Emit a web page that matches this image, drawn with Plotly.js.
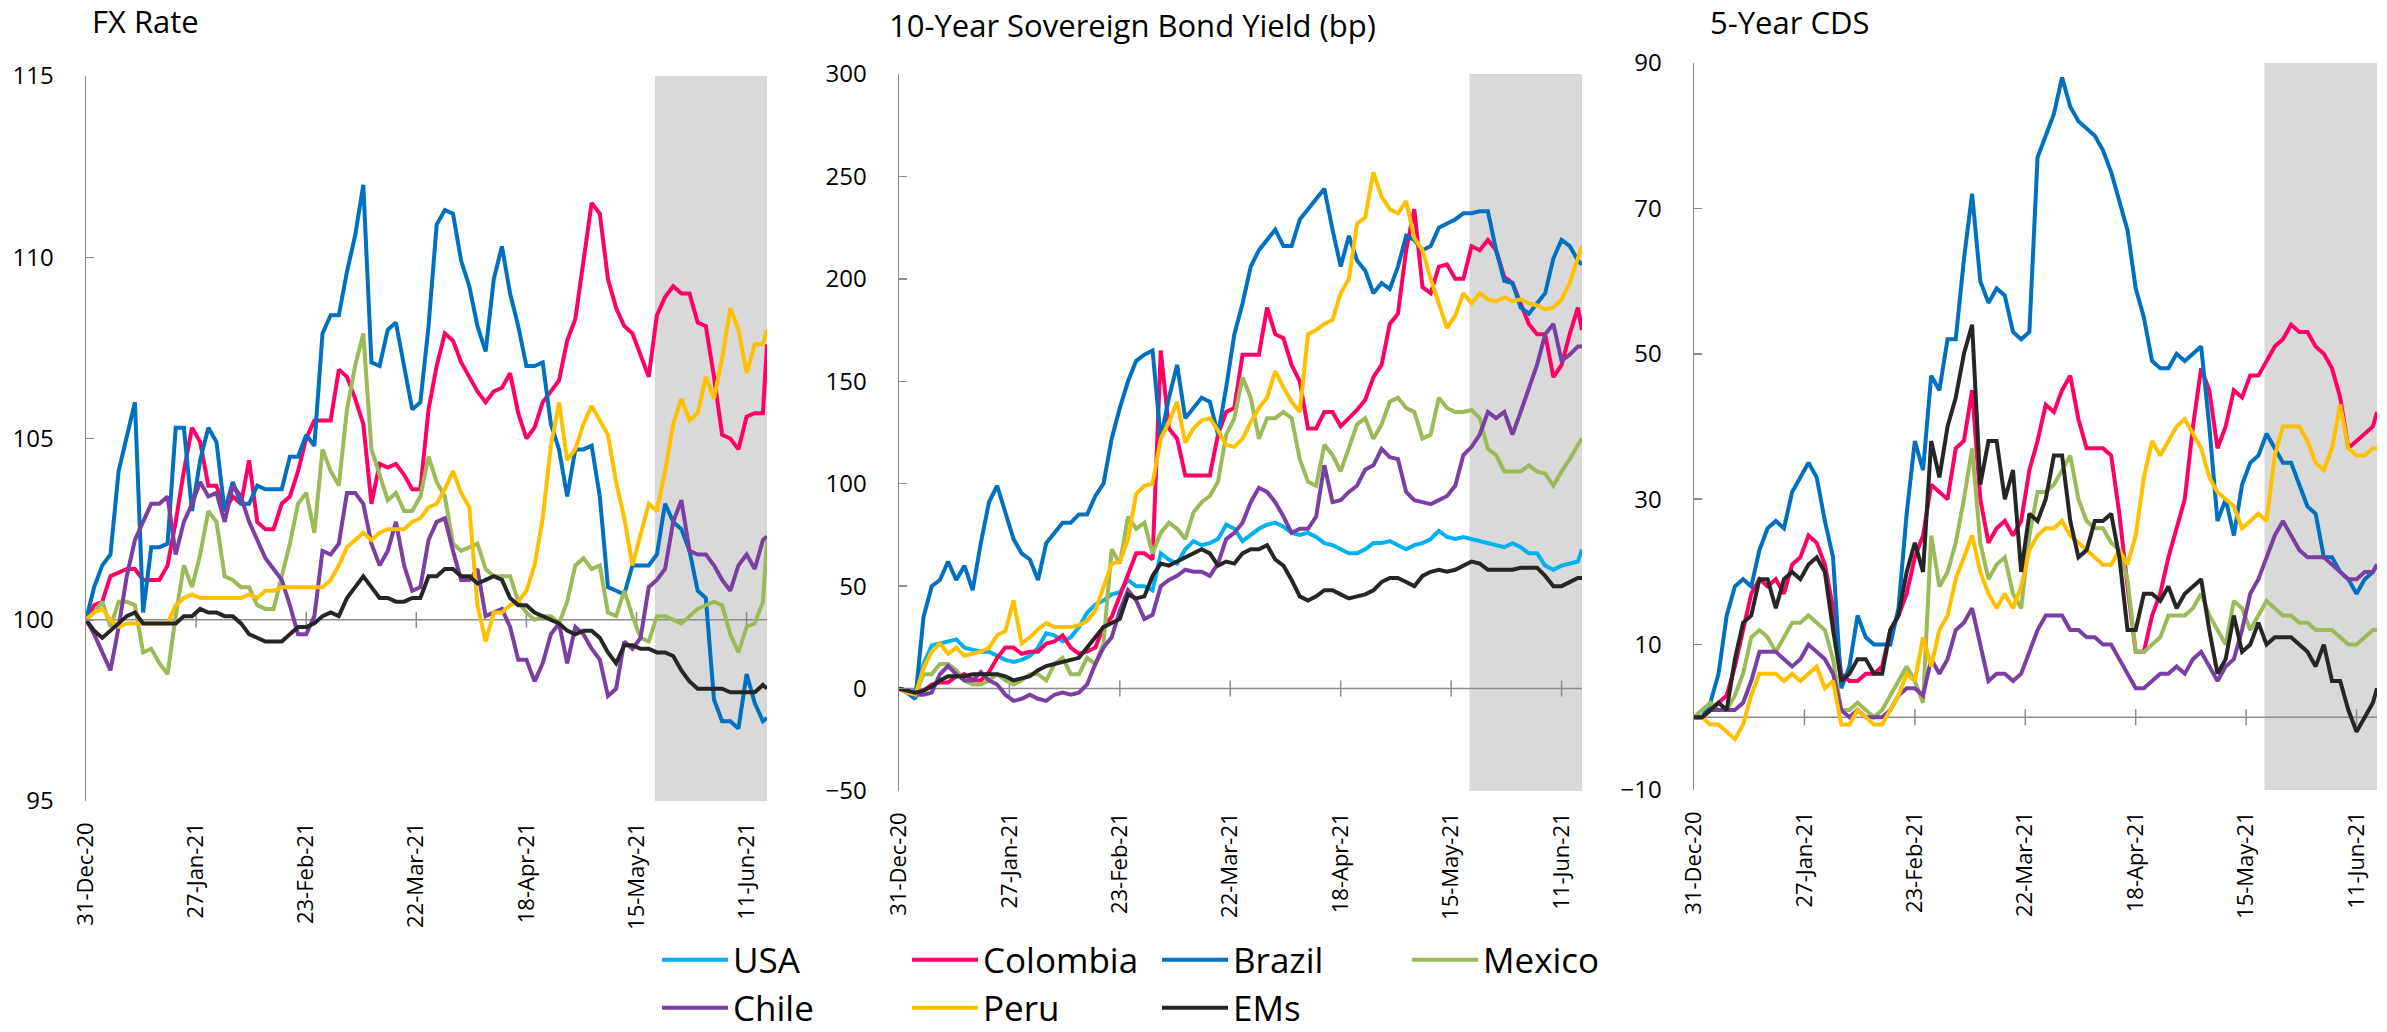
<!DOCTYPE html>
<html>
<head>
<meta charset="utf-8">
<script src="https://cdn.plot.ly/plotly-3.0.1.min.js"></script>
<style>html,body{margin:0;padding:0;background:#fff;}#chart{width:2387px;height:1032px;}</style>
</head>
<body>
<div id="chart"></div>
<script>
// ---------- DATA ----------
const dates = [
"2020-12-31","2021-01-02","2021-01-04","2021-01-06","2021-01-08","2021-01-10","2021-01-12","2021-01-14","2021-01-16","2021-01-18",
"2021-01-20","2021-01-22","2021-01-24","2021-01-26","2021-01-28","2021-01-30","2021-02-01","2021-02-03","2021-02-05","2021-02-07",
"2021-02-09","2021-02-11","2021-02-13","2021-02-15","2021-02-17","2021-02-19","2021-02-21","2021-02-23","2021-02-25","2021-02-27",
"2021-03-01","2021-03-03","2021-03-05","2021-03-07","2021-03-09","2021-03-11","2021-03-13","2021-03-15","2021-03-17","2021-03-19",
"2021-03-21","2021-03-23","2021-03-25","2021-03-27","2021-03-29","2021-03-31","2021-04-02","2021-04-04","2021-04-06","2021-04-08",
"2021-04-10","2021-04-12","2021-04-14","2021-04-16","2021-04-18","2021-04-20","2021-04-22","2021-04-24","2021-04-26","2021-04-28",
"2021-04-30","2021-05-02","2021-05-04","2021-05-06","2021-05-08","2021-05-10","2021-05-12","2021-05-14","2021-05-16","2021-05-18",
"2021-05-20","2021-05-22","2021-05-24","2021-05-26","2021-05-28","2021-05-30","2021-06-01","2021-06-03","2021-06-05","2021-06-07",
"2021-06-09","2021-06-11","2021-06-13","2021-06-15","2021-06-16"];

const tickDates = ["2020-12-31","2021-01-27","2021-02-23","2021-03-22","2021-04-18","2021-05-15","2021-06-11"];
const rangeStart = "2020-12-31";
const rangeEnd = "2021-06-16";
const shadeStart = "2021-05-19 12:00";

const panelTitles = ["FX Rate", "10-Year Sovereign Bond Yield (bp)", "5-Year CDS"];
const seriesNames = ["USA","Colombia","Brazil","Mexico","Chile","Peru","EMs"];

// FX Rate (index, 31-Dec-20 = 100)
const fxColombia = [100,100.4,100.5,101.2,101.3,101.4,101.4,101.1,101.1,101.1,
 101.5,102.7,104.1,105.3,104.9,103.7,103.7,103.0,103.4,103.2,
 104.4,102.7,102.5,102.5,103.2,103.4,104.1,105.0,105.5,105.5,
 105.5,106.9,106.7,106.1,105.4,103.2,104.3,104.2,104.3,104.0,
 103.6,103.6,105.8,107.0,107.9,107.7,107.1,106.7,106.3,106.0,
 106.3,106.4,106.8,105.7,105.0,105.3,106.0,106.3,106.6,107.7,
 108.3,109.9,111.5,111.2,109.4,108.6,108.1,107.9,107.3,106.7,
 108.4,108.9,109.2,109.0,109.0,108.2,108.1,106.7,105.1,105.0,
 104.7,105.6,105.7,105.7,107.6];
const fxBrazil = [100,100.9,101.5,101.8,104.1,105.0,106.0,100.2,102.0,102.0,
 102.1,105.3,105.3,103.0,104.4,105.3,104.9,103.0,103.8,103.2,
 103.2,103.7,103.6,103.6,103.6,104.5,104.5,105.1,104.8,107.9,
 108.4,108.4,109.6,110.6,112.0,107.1,107.0,108.0,108.2,107.0,
 105.8,106.0,108.1,110.9,111.3,111.2,109.9,109.2,108.1,107.4,
 109.4,110.3,109.0,108.1,107.0,107.0,107.1,105.4,104.7,103.4,
 104.7,104.7,104.8,103.4,100.9,100.8,100.7,101.5,101.5,101.5,
 101.8,103.2,102.7,102.5,101.9,100.8,100.6,97.8,97.2,97.2,
 97.0,98.5,97.7,97.2,97.3];
const fxMexico = [100,100.2,100.5,99.8,100.5,100.5,100.4,99.1,99.2,98.8,
 98.5,100.1,101.5,100.9,101.8,103.0,102.7,101.2,101.1,100.9,
 100.9,100.4,100.3,100.3,101.2,102.1,103.2,103.5,102.4,104.7,
 104.1,103.7,105.8,107.0,107.9,104.7,104.0,103.3,103.5,103.0,
 103.0,103.4,104.5,103.8,103.4,102.1,101.9,102.0,102.1,101.4,
 101.2,101.2,101.2,100.5,100.2,100.0,100.1,100.1,99.9,100.5,
 101.5,101.7,101.4,101.5,100.2,100.1,100.8,100.1,99.5,99.4,
 100.1,100.1,100.0,99.9,100.1,100.3,100.4,100.5,100.4,99.6,
 99.1,99.8,99.9,100.5,102.2];
const fxChile = [100,99.6,99.1,98.6,99.8,101.2,102.2,102.7,103.2,103.2,
 103.4,101.8,102.7,103.2,103.8,103.4,103.5,102.7,103.7,103.4,
 102.7,102.2,101.7,101.4,101.1,100.4,99.6,99.6,100.1,101.9,
 101.8,102.1,103.5,103.5,103.2,102.1,101.5,101.9,102.7,101.5,
 100.8,100.9,102.2,102.7,102.8,101.9,101.1,101.1,101.4,100.1,
 100.2,100.3,99.8,98.9,98.9,98.3,98.8,99.6,99.9,98.8,
 99.8,99.6,99.2,98.9,97.9,98.1,99.4,99.2,99.5,100.9,
 101.1,101.4,102.7,103.3,101.9,101.8,101.8,101.5,101.1,100.8,
 101.5,101.8,101.4,102.2,102.3];
const fxPeru = [100,100.2,100.3,100.0,99.8,99.9,99.9,99.9,99.9,99.9,
 99.9,100.4,100.6,100.7,100.6,100.6,100.6,100.6,100.6,100.6,
 100.7,100.6,100.8,100.8,100.9,100.9,100.9,100.9,100.9,100.9,
 101.1,101.5,102.0,102.2,102.4,102.2,102.4,102.5,102.5,102.5,
 102.7,102.8,103.1,103.2,103.6,104.1,103.5,103.1,100.4,99.4,
 100.2,100.2,100.4,100.5,100.8,101.5,102.8,104.8,106.0,104.4,
 104.7,105.4,105.9,105.5,105.1,103.8,102.8,101.5,102.4,103.2,
 103.0,104.1,105.4,106.1,105.5,105.7,106.7,106.1,107.2,108.6,
 108.0,106.8,107.6,107.6,108.0];
const fxEMs = [100,99.7,99.5,99.7,99.9,100.1,100.2,99.9,99.9,99.9,
 99.9,99.9,100.1,100.1,100.3,100.2,100.2,100.1,100.1,99.9,
 99.6,99.5,99.4,99.4,99.4,99.6,99.8,99.8,99.9,100.1,
 100.2,100.1,100.6,100.9,101.2,100.9,100.6,100.6,100.5,100.5,
 100.6,100.6,101.2,101.2,101.4,101.4,101.2,101.2,101.0,101.1,
 101.2,101.1,100.6,100.4,100.4,100.2,100.1,100.0,99.9,99.7,
 99.6,99.7,99.7,99.5,99.1,98.8,99.3,99.3,99.2,99.2,
 99.1,99.1,99.0,98.6,98.3,98.1,98.1,98.1,98.1,98.0,
 98.0,98.0,98.0,98.2,98.1];

// 10-Year Sovereign Bond Yield (bp change)
const bdUSA = [0,-2,-1,12,21,22,23,24,20,19,
 18,18,16,14,13,14,16,20,27,26,
 23,25,30,37,41,43,46,47,53,50,
 50,48,66,63,61,68,72,70,71,73,
 80,78,72,75,78,80,81,79,76,75,
 76,74,71,70,68,66,66,68,71,71,
 72,70,68,70,71,73,77,74,73,74,
 73,72,71,70,69,71,69,66,66,60,
 58,60,61,62,68];
const bdColombia = [0,-1,-3,-1,2,3,3,6,7,4,
 4,8,15,20,20,17,18,18,22,23,
 26,20,17,18,20,30,35,45,55,66,
 66,63,165,127,122,104,104,104,104,124,
 135,137,163,163,163,186,173,171,158,150,
 127,127,135,135,128,132,136,141,152,158,
 178,183,214,234,196,193,206,207,200,200,
 216,214,219,214,201,198,188,178,173,173,
 152,158,173,186,175];
const bdBrazil = [0,-2,-5,35,50,53,62,53,60,48,
 71,91,99,86,73,66,63,53,71,76,
 81,81,85,85,94,100,122,137,150,160,
 163,165,122,142,158,132,137,142,140,124,
 147,173,188,206,214,219,224,216,216,229,
 234,239,244,224,206,221,209,204,193,198,
 195,206,221,219,214,216,225,227,229,232,
 232,233,233,214,199,198,186,183,188,193,
 210,219,216,209,207];
const bdMexico = [0,-1,-3,7,7,12,12,9,4,2,
 2,4,7,4,2,4,7,7,4,12,
 15,7,7,15,12,22,68,61,84,78,
 81,66,76,81,78,73,86,91,94,101,
 124,132,152,142,122,132,132,135,132,112,
 101,99,119,114,106,117,129,132,122,129,
 140,142,137,135,122,124,142,137,135,135,
 136,132,117,114,106,106,106,109,106,105,
 99,106,112,119,122];
const bdChile = [0,-1,-3,-3,-2,7,11,7,4,4,
 8,4,2,-3,-6,-5,-3,-5,-6,-3,
 -2,-3,-2,2,12,20,25,38,48,43,
 34,36,50,53,55,58,57,57,55,61,
 73,76,81,91,98,96,91,84,76,78,
 78,84,109,91,92,96,99,107,109,117,
 113,112,96,92,91,90,92,94,99,114,
 118,124,135,132,135,124,135,147,158,173,
 178,160,163,167,167];
const bdPeru = [0,-2,-3,10,18,22,17,20,16,17,
 18,20,26,28,43,22,25,29,32,30,
 30,30,31,33,38,50,61,62,73,95,
 99,100,122,130,140,120,127,131,132,126,
 119,118,122,130,137,142,155,147,140,135,
 173,175,178,180,193,200,227,230,252,240,
 234,232,238,220,214,200,188,176,182,193,
 188,193,190,189,191,189,190,188,187,185,
 186,190,198,210,216];
const bdEMs = [0,-1,-2,-1,1,4,6,6,6,7,
 7,7,7,6,4,5,6,9,11,12,
 13,14,15,20,25,30,32,34,46,44,
 45,55,61,60,62,64,66,68,66,60,
 62,61,66,68,68,70,63,60,53,45,
 43,45,48,48,46,44,45,46,48,52,
 54,54,52,50,55,57,58,57,58,60,
 62,61,58,58,58,58,59,59,59,55,
 50,50,52,54,54];

// 5-Year CDS (bp change)
const cdsColombia = [0,0,1,2,3,7,12,17,19,18,
 19,17,21,22,25,24,21,15,6,5,
 5,6,6,7,12,14,17,22,25,32,
 31,30,37,38,45,30,24,26,27,25,
 27,34,38,43,42,45,47,41,37,37,
 37,36,28,18,9,9,14,17,22,26,
 30,40,48,45,37,40,45,44,47,47,
 49,51,52,54,53,53,51,50,48,44,
 37,38,39,40,42];
const cdsBrazil = [0,0,2,6,14,18,19,18,23,26,
 27,26,31,33,35,33,27,22,4,7,
 14,11,10,10,10,15,28,38,34,47,
 45,52,52,63,72,60,57,59,58,53,
 52,53,77,80,83,88,84,82,81,80,
 78,75,71,67,59,55,49,48,48,50,
 49,50,51,40,27,30,25,32,35,36,
 39,37,35,35,32,29,28,22,22,20,
 19,17,19,20,21];
const cdsMexico = [0,1,2,1,1,3,6,11,12,11,
 9,11,13,13,14,13,12,8,1,1,
 2,1,0,1,3,5,7,5,2,25,
 18,20,24,30,37,24,19,21,22,17,
 15,25,31,31,32,34,36,30,27,26,
 26,24,23,19,9,9,10,11,14,14,
 14,15,17,14,12,10,16,15,12,14,
 16,15,14,14,13,13,12,12,12,11,
 10,10,11,12,12];
const cdsChile = [0,0,1,1,1,1,2,5,9,9,
 9,8,7,8,10,9,8,6,1,0,
 1,0,0,0,1,3,4,4,3,8,
 6,8,12,13,15,10,5,6,6,5,
 6,9,12,14,14,14,12,12,11,11,
 10,10,8,6,4,4,5,6,6,7,
 6,8,9,7,5,7,8,12,17,19,
 22,25,27,25,23,22,22,22,21,20,
 19,19,20,20,21];
const cdsPeru = [0,0,-1,-1,-2,-3,-1,3,6,6,
 6,5,6,5,6,7,4,5,-1,-1,
 1,0,-1,-1,1,3,6,5,11,7,
 12,14,19,22,25,20,17,15,17,15,
 18,23,25,26,26,27,25,24,23,22,
 21,21,23,21,25,33,38,36,38,40,
 41,39,37,33,31,30,29,26,27,28,
 27,36,40,40,40,38,35,34,37,43,
 37,36,36,37,37];
const cdsEMs = [0,0,1,2,1,8,13,14,19,19,
 15,19,20,19,21,22,20,12,5,6,
 8,8,6,6,12,14,20,24,20,38,
 33,40,44,50,54,32,38,38,30,34,
 20,28,27,30,36,36,27,22,23,27,
 27,28,22,12,12,17,17,16,18,15,
 17,18,19,12,6,8,14,9,10,13,
 10,11,11,11,10,9,7,10,5,5,
 1,-2,0,2,4];

// ---------- STYLE ----------
const colors = {USA:"#00B0F0", Colombia:"#FF0066", Brazil:"#0070C0", Mexico:"#9BBB59", Chile:"#7B3FA3", Peru:"#FFC000", EMs:"#262626"};
const legendOf = {USA:"legend", Colombia:"legend", Brazil:"legend", Mexico:"legend", Chile:"legend2", Peru:"legend2", EMs:"legend2"};
const W = 2387, H = 1032;
const axisColor = "#8C8C8C";
const FONT = "Open Sans, Noto Sans, sans-serif";

const panels = [
  {xa:"x", ya:"y", base:100, yrange:[95,115], tick0:95, dtick:5, px:[86,767], py:[76,801],
   series:{Colombia:fxColombia, Brazil:fxBrazil, Mexico:fxMexico, Chile:fxChile, Peru:fxPeru, EMs:fxEMs}, legend:false},
  {xa:"x2", ya:"y2", base:0, yrange:[-50,300], tick0:-50, dtick:50, px:[899,1582], py:[74,791],
   series:{USA:bdUSA, Colombia:bdColombia, Brazil:bdBrazil, Mexico:bdMexico, Chile:bdChile, Peru:bdPeru, EMs:bdEMs}, legend:true},
  {xa:"x3", ya:"y3", base:0, yrange:[-10,90], tick0:-10, dtick:20, px:[1694,2377], py:[63,790],
   series:{Colombia:cdsColombia, Brazil:cdsBrazil, Mexico:cdsMexico, Chile:cdsChile, Peru:cdsPeru, EMs:cdsEMs}, legend:false}
];

const traces = [];
const layout = {
  width:W, height:H, margin:{l:0,r:0,t:0,b:0,autoexpand:false},
  paper_bgcolor:"#ffffff", plot_bgcolor:"rgba(0,0,0,0)",
  font:{family:FONT, color:"#000000", size:22},
  showlegend:true, shapes:[], annotations:[]
};

panels.forEach((p, i) => {
  seriesNames.forEach(name => {
    const vals = p.series[name];
    if (!vals) return;
    traces.push({
      type:"scatter", mode:"lines", name:name, x:dates, y:vals,
      xaxis:p.xa, yaxis:p.ya,
      line:{color:colors[name], width:4, shape:"linear"},
      legendgroup:name, showlegend:p.legend, legend:legendOf[name],
      hoverinfo:"skip"
    });
  });
  const sfx = i === 0 ? "" : String(i+1);
  layout["xaxis"+sfx] = {
    domain:[p.px[0]/W, p.px[1]/W], anchor:p.ya, type:"date",
    range:[rangeStart, rangeEnd], tickmode:"array", tickvals:tickDates,
    tickformat:"%d-%b-%y", tickangle:-90, ticks:"", showline:false,
    showgrid:false, zeroline:false, ticklabelstandoff:16, automargin:false,
    tickfont:{size:22, family:FONT, color:"#000"}, fixedrange:true
  };
  layout["yaxis"+sfx] = {
    domain:[1-p.py[1]/H, 1-p.py[0]/H], anchor:p.xa, range:p.yrange,
    tickmode:"linear", tick0:p.tick0, dtick:p.dtick,
    showline:true, linecolor:axisColor, linewidth:1.5,
    ticks:"inside", ticklen:8, tickwidth:1.5, tickcolor:axisColor,
    showgrid:false, zeroline:false, ticklabelstandoff:26, automargin:false,
    tickfont:{size:24, family:FONT, color:"#000"}, fixedrange:true
  };
  layout.shapes.push({type:"rect", xref:p.xa, yref:p.ya+" domain", x0:shadeStart, x1:rangeEnd, y0:0, y1:1,
    fillcolor:"#D9D9D9", line:{width:0}, layer:"below"});
  layout.shapes.push({type:"line", xref:p.xa, yref:p.ya, x0:rangeStart, x1:rangeEnd, y0:p.base, y1:p.base,
    line:{color:axisColor, width:1.5}, layer:"below"});
  tickDates.slice(1).forEach(d => {
    layout.shapes.push({type:"line", xref:p.xa, yref:p.ya, ysizemode:"pixel", yanchor:p.base,
      x0:d, x1:d, y0:-8, y1:8, line:{color:axisColor, width:1.5}, layer:"below"});
  });
});

const titlePos = [[90,21],[887,25],[1708,22]];
panelTitles.forEach((t, i) => {
  layout.annotations.push({text:t, xref:"paper", yref:"paper", x:titlePos[i][0]/W, y:1-titlePos[i][1]/H,
    xanchor:"left", yanchor:"middle", showarrow:false, font:{size:31, family:FONT, color:"#000"}});
});

const legendBase = {orientation:"h", xref:"container", yref:"container", xanchor:"left", yanchor:"middle",
  font:{size:35, family:FONT, color:"#000"}, entrywidth:169, entrywidthmode:"pixels", itemwidth:66,
  bgcolor:"rgba(0,0,0,0)", traceorder:"normal", itemclick:false, itemdoubleclick:false};
layout.legend = Object.assign({}, legendBase, {x:657/W, y:1-960/H});
layout.legend2 = Object.assign({}, legendBase, {x:657/W, y:1-1008/H});

Plotly.newPlot("chart", traces, layout, {staticPlot:true, displayModeBar:false});
</script>
</body>
</html>
